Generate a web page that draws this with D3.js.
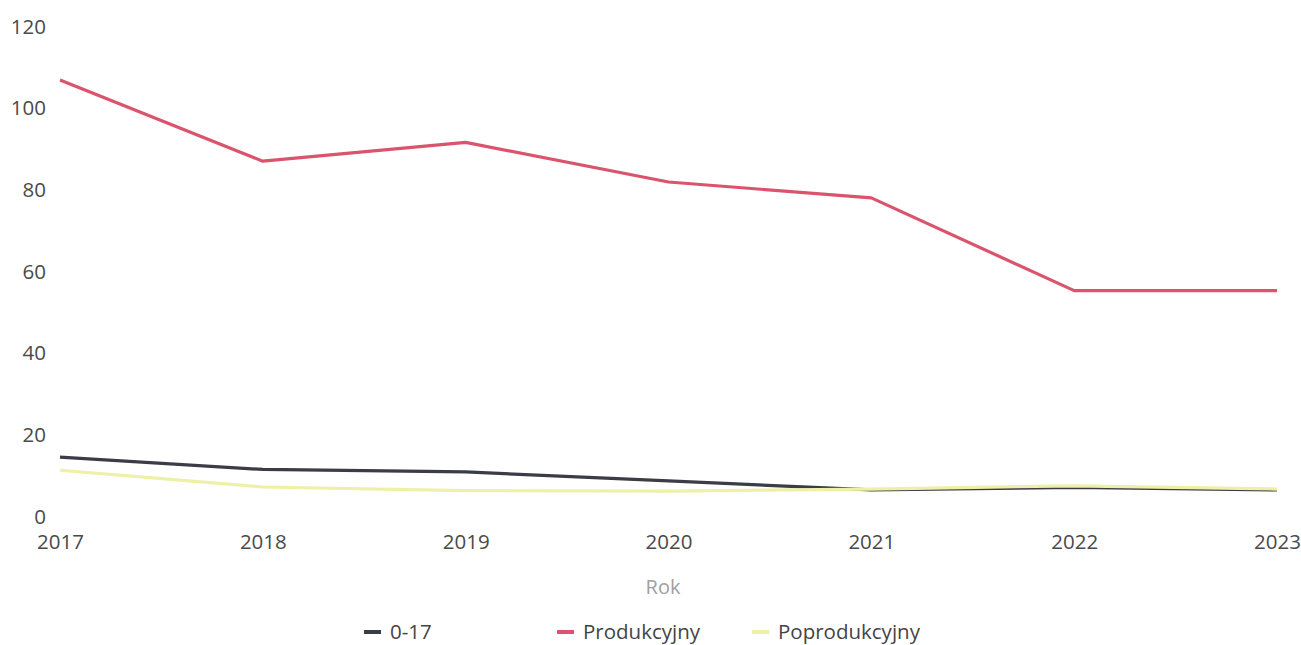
<!DOCTYPE html>
<meta charset="utf-8">
<style>
    body { margin: 0; background: #fff; }
    text { font-family: "Open Sans", "DejaVu Sans", sans-serif; }
    .tick text { fill: #4a4a4a; font-size: 20.5px; }
    .legend text { fill: #444; font-size: 20.5px; }
</style>
<body>
<svg id="chart" width="1301" height="645"></svg>
<script src="https://d3js.org/d3.v7.min.js"></script>
<script>
    // data
    var years = [2017, 2018, 2019, 2020, 2021, 2022, 2023];
    var kids = [14.4, 11.4, 10.8, 8.6, 6.4, 7.0, 6.4];
    var working = [106.8, 86.9, 91.5, 81.8, 77.9, 55.2, 55.2];
    var retired = [11.2, 7.1, 6.2, 6.1, 6.6, 7.4, 6.6];
    var yTicks = [0, 20, 40, 60, 80, 100, 120];

    var seriesNames = ["0-17", "Produkcyjny", "Poprodukcyjny"];
    var seriesColors = ["#3a3d45", "#d9546c", "#eef0a8"];
    var seriesData = [kids, working, retired];

    var svg = d3.select("#chart");

    var x = d3.scalePoint()
        .domain(years)
        .range([60, 1277]);

    var y = d3.scaleLinear()
        .domain([0, 120])
        .range([516, 26]);

    // y axis
    var yAxis = svg.append("g")
        .attr("transform", "translate(46,0)")
        .call(d3.axisLeft(y).tickValues(yTicks).tickSize(0).tickPadding(0));
    yAxis.select(".domain").remove();
    yAxis.selectAll("text").attr("dy", "0.35em");

    // x axis
    var xAxis = svg.append("g")
        .attr("transform", "translate(0,534)")
        .call(d3.axisBottom(x).tickSize(0).tickPadding(0).tickFormat(d3.format("d")));
    xAxis.select(".domain").remove();
    xAxis.selectAll("text").attr("dy", "0.71em");

    svg.append("text")
        .attr("x", 663)
        .attr("y", 594)
        .attr("text-anchor", "middle")
        .attr("fill", "#a0a0a0")
        .style("font-size", "20px")
        .text("Rok");

    var line = d3.line()
        .x(function(d, i) { return x(years[i]); })
        .y(function(d) { return y(d); });

    // draw in reverse so the dark line sits under the pale one where they cross
    [1, 0, 2].forEach(function(k) {
        svg.append("path")
            .datum(seriesData[k])
            .attr("fill", "none")
            .attr("stroke", seriesColors[k])
            .attr("stroke-width", 3.2)
            .attr("stroke-linejoin", "round")
            .attr("d", line);
    });

    // legend
    var legendX = [364, 557, 752];
    var legend = svg.append("g").attr("class", "legend");
    seriesNames.forEach(function(name, i) {
        legend.append("rect")
            .attr("x", legendX[i])
            .attr("y", 630)
            .attr("width", 17)
            .attr("height", 4)
            .attr("fill", seriesColors[i]);
        legend.append("text")
            .attr("x", legendX[i] + 26)
            .attr("y", 632)
            .attr("dy", "0.35em")
            .text(name);
    });
</script>
</body>
